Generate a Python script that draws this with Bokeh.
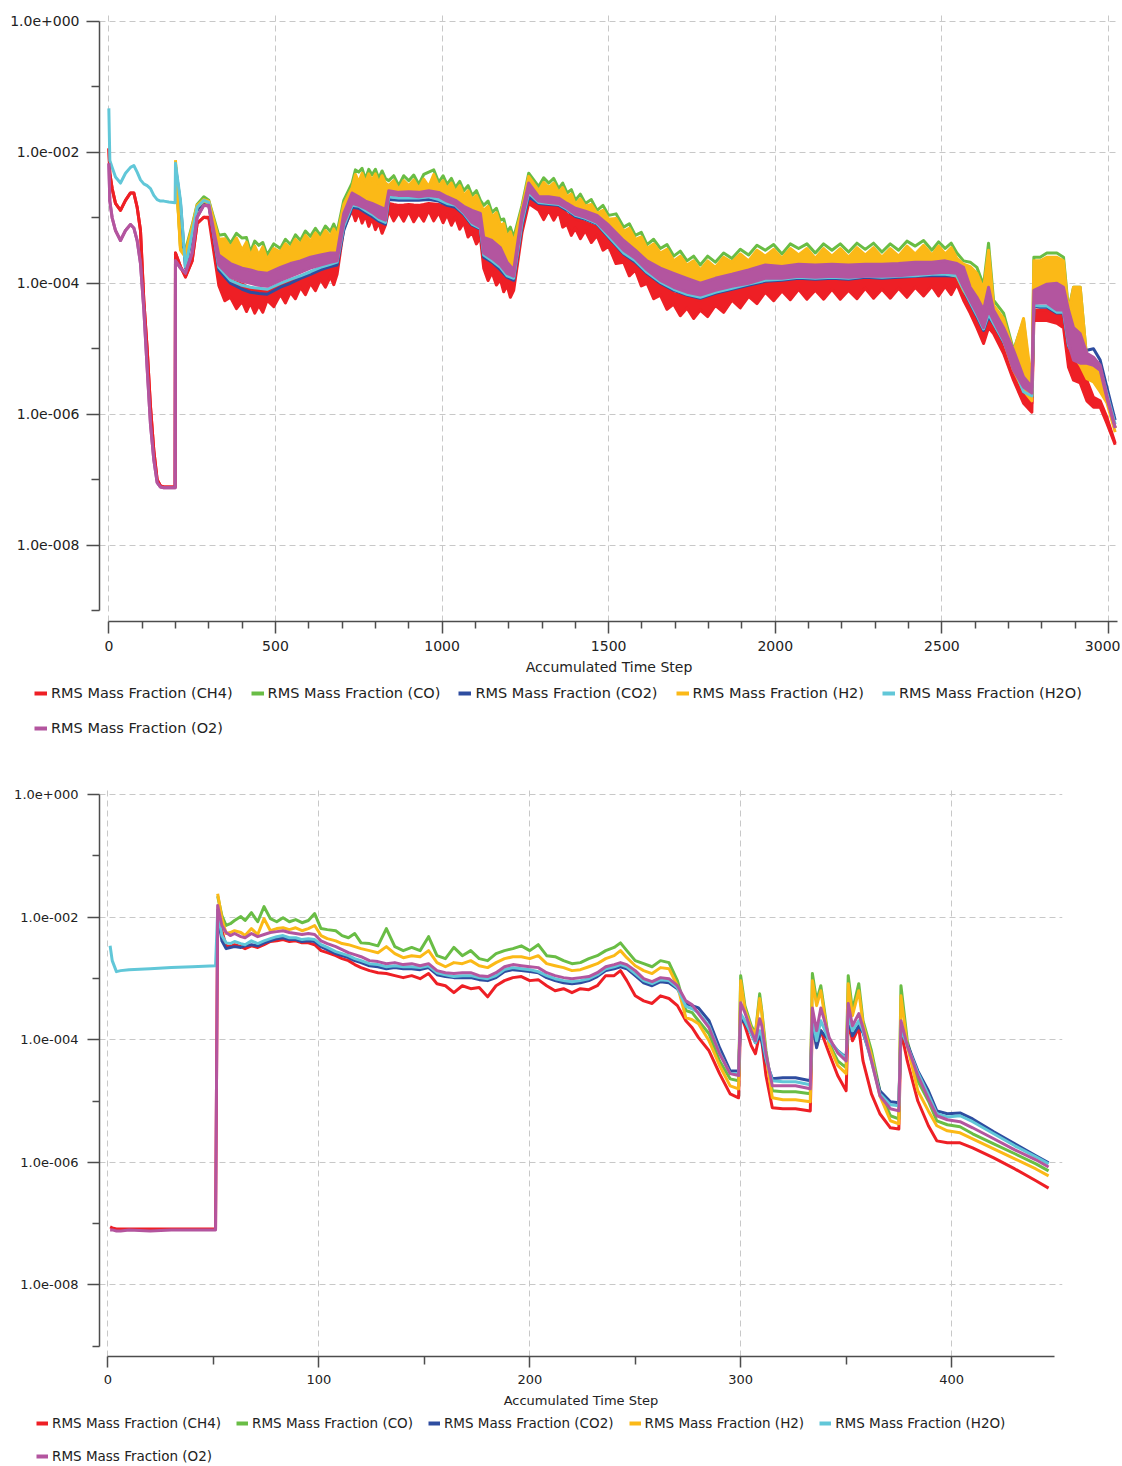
import numpy as np
from bokeh.plotting import figure
from bokeh.models import Range1d, FixedTicker, Legend, LegendItem, CustomJSTickFormatter
from bokeh.layouts import column
from bokeh.embed import file_html
from bokeh.resources import INLINE

FONT = "DejaVu Sans"
series_labels = ["RMS Mass Fraction (CH4)", "RMS Mass Fraction (CO)", "RMS Mass Fraction (CO2)",
                 "RMS Mass Fraction (H2)", "RMS Mass Fraction (H2O)", "RMS Mass Fraction (O2)"]
series_colors = ["#ee1f25", "#69bd45", "#2e4da0", "#fbb917", "#61c7d8", "#b3559f"]

y_major_ticks = [1.0, 1e-2, 1e-4, 1e-6, 1e-8]
y_minor_ticks = [1e-1, 1e-3, 1e-5, 1e-7, 1e-9]
x1_major_ticks = [0, 500, 1000, 1500, 2000, 2500, 3000]
x1_minor_ticks = [100, 200, 300, 400, 600, 700, 800, 900, 1100, 1200, 1300, 1400, 1600, 1700, 1800, 1900,
                  2100, 2200, 2300, 2400, 2600, 2700, 2800, 2900]
x2_major_ticks = [0, 100, 200, 300, 400]
x2_minor_ticks = [50, 150, 250, 350]

# ---------------- chart 1 (accumulated time step 0..3030) ----------------
t1_early = [0, 3, 10, 20, 35, 50, 65, 75, 85, 95, 105, 115, 125, 135, 145, 155, 165, 180, 199]
ch4_1_early = [1.15e-2, 4.8e-3, 2.8e-3, 1.66e-3, 1.3e-3, 1.85e-3, 2.4e-3, 2.4e-3, 1.45e-3, 6.4e-4,
               5.5e-5, 1.0e-5, 1.3e-6, 2.8e-7, 1.0e-7, 8.0e-8, 7.7e-8, 7.7e-8, 7.7e-8]
h2o_1_early = [4.7e-2, 7.5e-3, 5.9e-3, 4.2e-3, 3.4e-3, 4.8e-3, 5.9e-3, 6.3e-3, 5.0e-3, 3.8e-3,
               3.3e-3, 3.1e-3, 2.8e-3, 2.2e-3, 1.9e-3, 1.8e-3, 1.8e-3, 1.75e-3, 1.7e-3]
o2_1_early = [6.8e-3, 1.8e-3, 1.0e-3, 6.4e-4, 4.5e-4, 6.4e-4, 7.9e-4, 7.0e-4, 4.5e-4, 2.0e-4,
              4.0e-5, 5.0e-6, 7.0e-7, 2.0e-7, 9.0e-8, 7.7e-8, 7.5e-8, 7.5e-8, 7.5e-8]

t1_main = [200, 215, 230, 250, 265, 285, 300, 330, 365, 400,
           425, 450, 475, 515, 545, 575, 605, 635, 665, 685,
           705, 730, 750, 770, 790, 810, 830, 840, 870, 900,
           930, 960, 990, 1015, 1040, 1065, 1090, 1115, 1125, 1150,
           1175, 1195, 1215, 1240, 1260, 1290, 1320, 1350, 1375, 1400,
           1430, 1465, 1500, 1545, 1580, 1615, 1655, 1695, 1735, 1775,
           1820, 1870, 1920, 1970, 2020, 2070, 2120, 2170, 2220, 2270,
           2320, 2370, 2420, 2470, 2510, 2545, 2565, 2585, 2605, 2625,
           2640, 2655, 2685, 2715, 2745, 2770, 2776, 2795, 2815, 2845,
           2865, 2880, 2895, 2915, 2935, 2955, 2975, 2995, 3020]

co_1 = [6.3e-3, 3.7e-4, 3.2e-4, 7.7e-4, 1.6e-3, 2.1e-3, 1.85e-3, 5.4e-4, 4.1e-4, 4.9e-4,
        3.0e-4, 3.8e-4, 2.7e-4, 3.4e-4, 3.9e-4, 4.5e-4, 5.2e-4, 5.4e-4, 6.2e-4, 6.0e-4,
        1.85e-3, 3.4e-3, 5.0e-3, 3.9e-3, 4.5e-3, 4.0e-3, 4.0e-3, 3.7e-3, 3.1e-3, 3.7e-3,
        3.25e-3, 5.0e-3, 3.5e-3, 3.25e-3, 2.9e-3, 2.6e-3, 2.2e-3, 1.85e-3, 1.55e-3, 1.21e-3,
        9.2e-4, 6.0e-4, 5.0e-4, 1.55e-3, 4.8e-3, 3.0e-3, 3.4e-3, 2.8e-3, 2.4e-3, 1.85e-3,
        1.66e-3, 1.3e-3, 1.09e-3, 7.2e-4, 5.4e-4, 3.9e-4, 3.4e-4, 2.6e-4, 2.2e-4, 1.9e-4,
        2.1e-4, 2.4e-4, 2.7e-4, 3.2e-4, 2.8e-4, 3.4e-4, 2.9e-4, 3.2e-4, 3.0e-4, 3.3e-4,
        3.0e-4, 3.2e-4, 3.7e-4, 3.2e-4, 3.4e-4, 2.9e-4, 2.2e-4, 2.1e-4, 1.75e-4, 9.3e-5,
        4.1e-4, 5.5e-5, 3.5e-5, 9.5e-6, 2.7e-5, 1.95e-6, 2.5e-4, 2.5e-4, 2.9e-4, 2.9e-4,
        2.5e-4, 3.9e-5, 8.7e-5, 8.7e-5, 6.7e-6, 5.6e-6, 3.9e-6, 1.95e-6, 6.1e-7]

h2_1_hi = [7.6e-3, 3.4e-4, 2.9e-4, 7.2e-4, 1.55e-3, 1.9e-3, 1.8e-3, 4.7e-4, 3.5e-4, 3.2e-4,
           2.6e-4, 2.7e-4, 2.3e-4, 3.0e-4, 3.4e-4, 3.9e-4, 4.4e-4, 4.7e-4, 5.2e-4, 5.2e-4,
           1.6e-3, 2.9e-3, 3.5e-3, 3.4e-3, 3.7e-3, 3.4e-3, 3.4e-3, 3.1e-3, 2.7e-3, 3.1e-3,
           2.8e-3, 3.0e-3, 3.0e-3, 2.8e-3, 2.5e-3, 2.2e-3, 1.9e-3, 1.6e-3, 1.3e-3, 1.02e-3,
           7.7e-4, 5.0e-4, 4.2e-4, 1.4e-3, 4.3e-3, 2.6e-3, 2.9e-3, 2.45e-3, 2.1e-3, 1.6e-3,
           1.5e-3, 1.17e-3, 9.5e-4, 6.2e-4, 4.7e-4, 3.4e-4, 2.9e-4, 2.2e-4, 1.9e-4, 1.6e-4,
           1.75e-4, 2.1e-4, 2.2e-4, 2.6e-4, 2.4e-4, 2.7e-4, 2.4e-4, 2.6e-4, 2.5e-4, 2.7e-4,
           2.5e-4, 2.6e-4, 2.8e-4, 2.7e-4, 2.8e-4, 2.4e-4, 1.95e-4, 1.8e-4, 1.42e-4, 8.1e-5,
           3.2e-4, 4.6e-5, 2.9e-5, 8.9e-6, 2.9e-5, 2.8e-6, 2.2e-4, 2.2e-4, 2.5e-4, 2.5e-4,
           2.2e-4, 3.6e-5, 8.7e-5, 8.7e-5, 6.7e-6, 5.6e-6, 3.9e-6, 1.95e-6, 6.1e-7]
h2_1_lo = [6.8e-3, 3.2e-4, 2.5e-4, 6.7e-4, 1.45e-3, 1.8e-3, 1.66e-3, 2.7e-4, 2.0e-4, 1.7e-4,
           1.6e-4, 1.47e-4, 1.42e-4, 1.75e-4, 2.0e-4, 2.2e-4, 2.5e-4, 2.7e-4, 2.9e-4, 2.9e-4,
           1.17e-3, 2.4e-3, 2.2e-3, 1.85e-3, 1.66e-3, 1.5e-3, 1.4e-3, 2.45e-3, 2.4e-3, 2.45e-3,
           2.4e-3, 2.5e-3, 2.4e-3, 2.1e-3, 1.85e-3, 1.5e-3, 1.3e-3, 1.17e-3, 5.4e-4, 4.5e-4,
           3.5e-4, 2.1e-4, 1.6e-4, 1.21e-3, 3.5e-3, 2.1e-3, 2.1e-3, 2.0e-3, 1.66e-3, 1.4e-3,
           1.26e-3, 1.09e-3, 7.7e-4, 4.5e-4, 3.2e-4, 2.2e-4, 1.7e-4, 1.42e-4, 1.19e-4, 1.0e-4,
           1.11e-4, 1.28e-4, 1.42e-4, 1.6e-4, 1.47e-4, 1.6e-4, 1.47e-4, 1.6e-4, 1.47e-4, 1.6e-4,
           1.5e-4, 1.6e-4, 1.6e-4, 1.47e-4, 1.42e-4, 1.28e-4, 7.8e-5, 5.5e-5, 3.9e-5, 2.2e-5,
           3.6e-5, 2.5e-5, 1.35e-5, 4.7e-6, 2.3e-6, 1.6e-6, 7.8e-5, 7.8e-5, 7.8e-5, 5.5e-5,
           4.6e-5, 1.6e-5, 8.0e-6, 5.6e-6, 3.5e-6, 3.1e-6, 2.2e-6, 1.5e-6, 5.3e-7]

co2_1 = [6.1e-3, 1.66e-3, 1.7e-4, 5.2e-4, 1.3e-3, 1.72e-3, 1.6e-3, 1.6e-4, 1.0e-4, 8.1e-5,
         7.3e-5, 7.0e-5, 6.8e-5, 8.7e-5, 1.0e-4, 1.19e-4, 1.37e-4, 1.6e-4, 1.8e-4, 1.9e-4,
         6.4e-4, 1.45e-3, 1.4e-3, 1.21e-3, 1.05e-3, 8.9e-4, 8.0e-4, 1.9e-3, 1.85e-3, 1.85e-3,
         1.85e-3, 1.9e-3, 1.8e-3, 1.55e-3, 1.45e-3, 1.13e-3, 7.7e-4, 6.7e-4, 2.5e-4, 2.1e-4,
         1.6e-4, 1.24e-4, 1.11e-4, 7.7e-4, 2.1e-3, 1.66e-3, 1.6e-3, 1.55e-3, 1.3e-3, 1.05e-3,
         9.5e-4, 8.0e-4, 5.0e-4, 2.8e-4, 2.1e-4, 1.42e-4, 1.0e-4, 7.8e-5, 6.6e-5, 5.9e-5,
         7.0e-5, 8.1e-5, 9.3e-5, 1.07e-4, 1.11e-4, 1.19e-4, 1.15e-4, 1.19e-4, 1.15e-4, 1.24e-4,
         1.19e-4, 1.24e-4, 1.28e-4, 1.3e-4, 1.3e-4, 1.28e-4, 7.8e-5, 5.0e-5, 3.1e-5, 1.9e-5,
         3.1e-5, 2.4e-5, 1.26e-5, 6.0e-6, 2.2e-6, 1.8e-6, 4.5e-5, 4.3e-5, 4.3e-5, 3.5e-5,
         3.5e-5, 1.09e-5, 8.9e-6, 8.5e-6, 9.5e-6, 1.0e-5, 6.7e-6, 2.6e-6, 8.1e-7]

h2o_1_main = [6.8e-3, 1.85e-3, 1.75e-4, 5.8e-4, 1.45e-3, 1.85e-3, 1.72e-3, 1.75e-4, 1.11e-4, 9.3e-5,
              8.7e-5, 8.4e-5, 8.1e-5, 1.0e-4, 1.15e-4, 1.3e-4, 1.5e-4, 1.75e-4, 1.95e-4, 2.1e-4,
              7.4e-4, 1.55e-3, 1.5e-3, 1.3e-3, 1.13e-3, 9.5e-4, 8.5e-4, 2.1e-3, 2.0e-3, 2.0e-3,
              2.0e-3, 2.1e-3, 1.9e-3, 1.66e-3, 1.55e-3, 1.17e-3, 8.0e-4, 6.9e-4, 2.7e-4, 2.2e-4,
              1.75e-4, 1.3e-4, 1.19e-4, 8.5e-4, 2.4e-3, 1.72e-3, 1.66e-3, 1.6e-3, 1.35e-3, 1.09e-3,
              9.8e-4, 8.2e-4, 5.2e-4, 2.9e-4, 2.2e-4, 1.47e-4, 1.04e-4, 8.1e-5, 6.8e-5, 6.1e-5,
              7.3e-5, 8.4e-5, 9.7e-5, 1.11e-4, 1.15e-4, 1.24e-4, 1.19e-4, 1.24e-4, 1.19e-4, 1.28e-4,
              1.24e-4, 1.28e-4, 1.3e-4, 1.37e-4, 1.37e-4, 1.3e-4, 8.1e-5, 5.1e-5, 3.25e-5, 2.0e-5,
              3.4e-5, 2.45e-5, 1.3e-5, 5.4e-6, 2.2e-6, 1.9e-6, 4.6e-5, 4.5e-5, 4.5e-5, 3.6e-5,
              3.6e-5, 1.13e-5, 7.7e-6, 7.2e-6, 8.0e-6, 7.2e-6, 5.0e-6, 2.1e-6, 7.0e-7]

o2_1_hi = [2.2e-4, 1.7e-4, 1.47e-4, 2.9e-4, 1.02e-3, 1.55e-3, 1.55e-3, 2.7e-4, 2.0e-4, 1.7e-4,
           1.6e-4, 1.47e-4, 1.42e-4, 1.75e-4, 2.0e-4, 2.2e-4, 2.5e-4, 2.7e-4, 2.9e-4, 2.9e-4,
           1.17e-3, 2.4e-3, 2.1e-3, 1.8e-3, 1.66e-3, 1.5e-3, 1.35e-3, 2.6e-3, 2.45e-3, 2.5e-3,
           2.45e-3, 2.6e-3, 2.45e-3, 2.1e-3, 1.85e-3, 1.5e-3, 1.3e-3, 1.17e-3, 5.0e-4, 4.5e-4,
           3.5e-4, 2.1e-4, 1.6e-4, 1.21e-3, 3.4e-3, 2.1e-3, 2.1e-3, 2.0e-3, 1.66e-3, 1.4e-3,
           1.26e-3, 1.09e-3, 7.7e-4, 4.5e-4, 3.2e-4, 2.2e-4, 1.7e-4, 1.42e-4, 1.19e-4, 1.0e-4,
           1.19e-4, 1.37e-4, 1.6e-4, 1.9e-4, 1.8e-4, 1.95e-4, 1.9e-4, 1.95e-4, 1.9e-4, 1.95e-4,
           1.95e-4, 2.0e-4, 2.1e-4, 2.1e-4, 2.2e-4, 2.0e-4, 1.75e-4, 8.7e-5, 6.1e-5, 3.9e-5,
           8.7e-5, 3.9e-5, 2.1e-5, 9.5e-6, 3.7e-6, 2.6e-6, 7.8e-5, 8.7e-5, 9.7e-5, 1.0e-4,
           8.7e-5, 3.9e-5, 2.1e-5, 1.7e-5, 8.5e-6, 7.4e-6, 5.6e-6, 1.95e-6, 6.3e-7]
o2_1_lo = [2.2e-4, 1.7e-4, 1.42e-4, 2.9e-4, 1.02e-3, 1.55e-3, 1.5e-3, 1.9e-4, 1.24e-4, 1.07e-4,
           1.0e-4, 9.3e-5, 9.0e-5, 1.11e-4, 1.28e-4, 1.47e-4, 1.7e-4, 1.9e-4, 2.1e-4, 2.2e-4,
           8.2e-4, 1.66e-3, 1.55e-3, 1.4e-3, 1.21e-3, 1.02e-3, 9.2e-4, 2.3e-3, 2.2e-3, 2.2e-3,
           2.1e-3, 2.2e-3, 2.1e-3, 1.8e-3, 1.6e-3, 1.21e-3, 8.5e-4, 7.2e-4, 2.9e-4, 2.4e-4,
           1.9e-4, 1.42e-4, 1.28e-4, 9.8e-4, 2.6e-3, 1.8e-3, 1.72e-3, 1.66e-3, 1.4e-3, 1.13e-3,
           1.02e-3, 8.5e-4, 5.6e-4, 3.2e-4, 2.4e-4, 1.6e-4, 1.11e-4, 8.7e-5, 7.3e-5, 6.6e-5,
           7.8e-5, 9.0e-5, 1.0e-4, 1.19e-4, 1.19e-4, 1.28e-4, 1.24e-4, 1.28e-4, 1.24e-4, 1.28e-4,
           1.28e-4, 1.3e-4, 1.37e-4, 1.42e-4, 1.47e-4, 1.42e-4, 8.7e-5, 5.5e-5, 3.5e-5, 2.1e-5,
           3.9e-5, 2.7e-5, 1.35e-5, 4.7e-6, 2.6e-6, 2.1e-6, 5.0e-5, 5.0e-5, 5.0e-5, 3.9e-5,
           3.9e-5, 1.2e-5, 6.7e-6, 6.0e-6, 6.0e-6, 5.6e-6, 4.7e-6, 1.75e-6, 6.1e-7]

ch4_1_hi = [2.9e-4, 1.8e-4, 1.28e-4, 2.2e-4, 8.2e-4, 1.02e-3, 1.02e-3, 1.7e-4, 1.11e-4, 9.7e-5,
            8.4e-5, 7.8e-5, 7.8e-5, 9.3e-5, 1.11e-4, 1.28e-4, 1.47e-4, 1.7e-4, 1.9e-4, 2.1e-4,
            9.2e-4, 1.66e-3, 1.66e-3, 1.5e-3, 1.3e-3, 1.13e-3, 1.05e-3, 1.66e-3, 1.55e-3, 1.6e-3,
            1.55e-3, 1.66e-3, 1.6e-3, 1.45e-3, 1.35e-3, 1.21e-3, 9.2e-4, 7.4e-4, 3.2e-4, 2.6e-4,
            2.1e-4, 1.47e-4, 1.11e-4, 9.2e-4, 2.1e-3, 1.66e-3, 1.6e-3, 1.55e-3, 1.13e-3, 9.8e-4,
            8.5e-4, 7.2e-4, 5.2e-4, 2.7e-4, 2.0e-4, 1.42e-4, 1.0e-4, 7.0e-5, 6.3e-5, 5.5e-5,
            7.0e-5, 8.4e-5, 9.7e-5, 1.11e-4, 1.15e-4, 1.24e-4, 1.19e-4, 1.19e-4, 1.15e-4, 1.24e-4,
            1.19e-4, 1.24e-4, 1.28e-4, 1.28e-4, 1.28e-4, 1.24e-4, 8.7e-5, 5.5e-5, 3.6e-5, 2.1e-5,
            3.0e-5, 2.45e-5, 1.35e-5, 5.2e-6, 2.1e-6, 1.47e-6, 3.9e-5, 3.9e-5, 3.9e-5, 3.5e-5,
            3.5e-5, 1.35e-5, 6.7e-6, 5.2e-6, 3.3e-6, 1.8e-6, 1.6e-6, 9.0e-7, 3.6e-7]
ch4_1_lo = [2.9e-4, 1.8e-4, 1.24e-4, 2.2e-4, 8.2e-4, 1.02e-3, 9.8e-4, 9.3e-5, 6.1e-5, 5.3e-5,
            5.0e-5, 4.6e-5, 5.5e-5, 6.8e-5, 7.3e-5, 8.7e-5, 1.0e-4, 1.15e-4, 1.28e-4, 1.37e-4,
            6.9e-4, 1.3e-3, 1.21e-3, 1.09e-3, 9.8e-4, 8.5e-4, 7.7e-4, 1.3e-3, 1.21e-3, 1.26e-3,
            1.17e-3, 1.3e-3, 1.21e-3, 1.13e-3, 1.02e-3, 8.5e-4, 6.0e-4, 5.0e-4, 1.7e-4, 1.47e-4,
            1.15e-4, 9.3e-5, 7.8e-5, 6.0e-4, 1.66e-3, 1.3e-3, 1.3e-3, 1.26e-3, 8.0e-4, 6.9e-4,
            6.4e-4, 5.4e-4, 3.7e-4, 2.1e-4, 1.6e-4, 1.0e-4, 6.6e-5, 4.8e-5, 4.2e-5, 3.9e-5,
            4.6e-5, 5.5e-5, 6.3e-5, 7.3e-5, 7.6e-5, 8.1e-5, 7.8e-5, 8.1e-5, 7.8e-5, 8.4e-5,
            8.1e-5, 8.4e-5, 8.7e-5, 9.0e-5, 9.0e-5, 9.7e-5, 5.5e-5, 3.5e-5, 2.1e-5, 1.2e-5,
            2.1e-5, 1.7e-5, 8.5e-6, 3.3e-6, 1.47e-6, 1.07e-6, 2.7e-5, 2.7e-5, 2.7e-5, 2.45e-5,
            2.1e-5, 5.2e-6, 3.3e-6, 3.0e-6, 1.6e-6, 1.28e-6, 1.28e-6, 7.3e-7, 3.4e-7]

# extra samples between the grid steps (the noisy spikes of the band edges)
t1_spk = [348, 383, 413, 438, 462, 495, 530, 560, 590, 620, 650, 675,
          740, 760, 780, 800, 820, 855, 885, 915, 945, 975, 1003, 1028, 1053, 1078, 1103,
          1138, 1163, 1185, 1205,
          1305, 1335, 1362, 1388, 1415, 1448,
          1483, 1522, 1562, 1598, 1635, 1675, 1715, 1755,
          1797, 1845, 1895, 1945, 1995, 2045, 2095, 2145, 2195, 2245, 2295, 2345, 2395, 2445, 2490, 2528]
co_1_spk = [5.6e-4, 5.8e-4, 5.0e-4, 4.4e-4, 4.2e-4, 4.0e-4, 4.7e-4, 5.5e-4, 6.3e-4, 6.9e-4, 7.5e-4, 8.0e-4,
            5.4e-3, 5.7e-3, 5.5e-3, 5.5e-3, 5.2e-3, 4.4e-3, 4.4e-3, 4.5e-3, 4.6e-3, 5.4e-3, 4.4e-3, 4.0e-3,
            3.6e-3, 3.1e-3, 2.6e-3,
            1.8e-3, 1.4e-3, 9.6e-4, 7.2e-4,
            4.1e-3, 4.0e-3, 3.4e-3, 2.7e-3, 2.3e-3, 1.9e-3,
            1.55e-3, 1.15e-3, 8.1e-4, 6.0e-4, 4.7e-4, 3.9e-4, 3.1e-4, 2.6e-4,
            2.6e-4, 2.9e-4, 3.3e-4, 3.8e-4, 3.9e-4, 4.0e-4, 4.0e-4, 4.0e-4, 4.0e-4, 4.1e-4, 4.1e-4, 4.0e-4,
            4.4e-4, 4.5e-4, 4.3e-4, 4.1e-4]
h2_1_spk_hi = [4.8e-4, 4.9e-4, 4.25e-4, 3.7e-4, 3.6e-4, 3.4e-4, 4.0e-4, 4.7e-4, 5.4e-4, 5.9e-4, 6.4e-4, 6.8e-4,
               4.6e-3, 4.8e-3, 4.7e-3, 4.7e-3, 4.4e-3, 3.7e-3, 3.7e-3, 3.8e-3, 3.9e-3, 4.6e-3, 3.7e-3, 3.4e-3,
               3.1e-3, 2.6e-3, 2.2e-3,
               1.5e-3, 1.2e-3, 8.2e-4, 6.1e-4,
               3.5e-3, 3.4e-3, 2.9e-3, 2.3e-3, 1.95e-3, 1.6e-3,
               1.3e-3, 9.8e-4, 6.9e-4, 5.1e-4, 4.0e-4, 3.3e-4, 2.6e-4, 2.2e-4,
               2.2e-4, 2.5e-4, 2.8e-4, 3.2e-4, 3.3e-4, 3.4e-4, 3.4e-4, 3.4e-4, 3.4e-4, 3.5e-4, 3.5e-4, 3.4e-4,
               3.7e-4, 3.8e-4, 3.7e-4, 3.5e-4]
h2_1_spk_lo = [2.3e-4, 1.84e-4, 1.65e-4, 1.53e-4, 1.44e-4, 1.58e-4, 1.87e-4, 2.1e-4, 2.35e-4, 2.6e-4, 2.8e-4, 2.9e-4,
               2.3e-3, 2.0e-3, 1.75e-3, 1.58e-3, 1.45e-3, 2.42e-3, 2.42e-3, 2.42e-3, 2.45e-3, 2.45e-3, 2.25e-3,
               1.97e-3, 1.67e-3, 1.4e-3, 1.23e-3,
               4.9e-4, 4.0e-4, 2.7e-4, 1.83e-4,
               2.1e-3, 2.05e-3, 1.82e-3, 1.52e-3, 1.33e-3, 1.17e-3,
               9.2e-4, 5.9e-4, 3.8e-4, 2.65e-4, 1.93e-4, 1.55e-4, 1.3e-4, 1.09e-4,
               1.05e-4, 1.19e-4, 1.35e-4, 1.51e-4, 1.53e-4, 1.53e-4, 1.53e-4, 1.53e-4, 1.53e-4, 1.53e-4,
               1.55e-4, 1.55e-4, 1.6e-4, 1.53e-4, 1.44e-4, 1.35e-4]
ch4_1_spk_hi = [1.37e-4, 1.04e-4, 9.0e-5, 8.1e-5, 7.8e-5, 8.5e-5, 1.02e-4, 1.19e-4, 1.37e-4, 1.58e-4, 1.8e-4, 2.0e-4,
                1.66e-3, 1.58e-3, 1.4e-3, 1.21e-3, 1.09e-3, 1.6e-3, 1.57e-3, 1.57e-3, 1.6e-3, 1.63e-3, 1.52e-3,
                1.4e-3, 1.28e-3, 1.06e-3, 8.3e-4,
                2.9e-4, 2.3e-4, 1.76e-4, 1.28e-4,
                1.63e-3, 1.57e-3, 1.32e-3, 1.05e-3, 9.1e-4, 7.8e-4,
                6.1e-4, 3.7e-4, 2.3e-4, 1.69e-4, 1.19e-4, 8.4e-5, 6.6e-5, 5.9e-5,
                6.2e-5, 7.7e-5, 9.0e-5, 1.04e-4, 1.13e-4, 1.19e-4, 1.21e-4, 1.19e-4, 1.17e-4, 1.19e-4,
                1.21e-4, 1.21e-4, 1.26e-4, 1.28e-4, 1.28e-4, 1.26e-4]
ch4_1_spk_lo = [5.4e-5, 4.1e-5, 3.7e-5, 3.5e-5, 3.6e-5, 4.4e-5, 5.0e-5, 5.8e-5, 6.7e-5, 7.7e-5, 8.7e-5, 9.5e-5,
                9.0e-4, 8.3e-4, 7.4e-4, 6.6e-4, 5.8e-4, 9.0e-4, 8.9e-4, 8.7e-4, 8.9e-4, 9.0e-4, 8.4e-4, 7.7e-4,
                6.7e-4, 5.1e-4, 4.0e-4,
                1.1e-4, 9.4e-5, 7.4e-5, 6.1e-5,
                9.4e-4, 9.2e-4, 7.2e-4, 5.4e-4, 4.8e-4, 4.2e-4,
                3.2e-4, 2.0e-4, 1.3e-4, 9.1e-5, 5.8e-5, 4.0e-5, 3.2e-5, 2.9e-5,
                3.1e-5, 3.6e-5, 4.2e-5, 4.9e-5, 5.4e-5, 5.6e-5, 5.7e-5, 5.7e-5, 5.7e-5, 5.8e-5, 5.9e-5, 5.9e-5,
                6.1e-5, 6.4e-5, 6.4e-5, 6.7e-5]

# ---------------- chart 2 (accumulated time step 0..446) ----------------
t2_early = [1, 2, 4, 6, 10, 20, 30, 40, 51]
h2o_2_early = [3.4e-3, 1.95e-3, 1.29e-3, 1.34e-3, 1.39e-3, 1.44e-3, 1.5e-3, 1.55e-3, 1.61e-3]
ch4_2_early = [8.85e-8, 8.5e-8, 8.2e-8, 8.2e-8, 8.2e-8, 8.2e-8, 8.2e-8, 8.2e-8, 8.2e-8]
o2_2_early = [7.9e-8, 7.9e-8, 7.6e-8, 7.6e-8, 7.9e-8, 7.6e-8, 7.9e-8, 7.9e-8, 7.9e-8]

t2_main = [52, 54, 56, 58, 60, 63, 65, 68, 71, 74,
           77, 80, 83, 86, 89, 92, 95, 98, 101, 104,
           108, 111, 114, 117, 120, 124, 128, 132, 136, 140,
           144, 148, 152, 156, 160, 164, 168, 172, 176, 180,
           184, 188, 192, 196, 200, 204, 208, 212, 216, 220,
           224, 228, 232, 236, 240, 243, 246, 250, 254, 258,
           262, 266, 270, 274, 277, 280, 285, 290, 295, 299,
           300, 302, 305, 307, 309, 310, 312, 315, 320, 326,
           333, 334, 336, 338, 342, 346, 350, 351, 353, 356,
           358, 362, 366, 371, 375, 376, 379, 384, 389, 393,
           398, 404, 410, 420, 430, 440, 446]

co_2 = [2.2e-2, 1.06e-2, 7.3e-3, 7.8e-3, 8.8e-3, 1.02e-2, 8.8e-3, 1.18e-2, 8.4e-3, 1.48e-2,
        9.45e-3, 8.4e-3, 9.8e-3, 8.4e-3, 9.1e-3, 8.1e-3, 8.8e-3, 1.14e-2, 6.5e-3, 6.25e-3,
        6.0e-3, 5.0e-3, 4.6e-3, 5.4e-3, 3.8e-3, 3.7e-3, 3.4e-3, 6.5e-3, 3.3e-3, 2.84e-3,
        3.2e-3, 2.84e-3, 4.8e-3, 2.35e-3, 2.1e-3, 3.2e-3, 2.35e-3, 2.84e-3, 2.1e-3, 1.95e-3,
        2.54e-3, 2.84e-3, 3.06e-3, 3.4e-3, 2.84e-3, 3.55e-3, 2.35e-3, 2.26e-3, 1.95e-3, 1.74e-3,
        1.81e-3, 2.1e-3, 2.35e-3, 2.84e-3, 3.2e-3, 3.8e-3, 2.84e-3, 1.95e-3, 1.74e-3, 1.55e-3,
        1.95e-3, 1.81e-3, 9.2e-4, 3.0e-4, 2.76e-4, 2.04e-4, 1.25e-4, 4.5e-5, 2.3e-5, 2.14e-5,
        1.11e-3, 3.6e-4, 1.69e-4, 1.25e-4, 5.6e-4, 3.0e-4, 6.6e-5, 1.47e-5, 1.42e-5, 1.42e-5,
        1.31e-5, 1.2e-3, 4.3e-4, 7.6e-4, 8.6e-5, 4.5e-5, 3.5e-5, 1.11e-3, 3.0e-4, 8.2e-4,
        2.04e-4, 6.6e-5, 1.47e-5, 5.75e-6, 5.1e-6, 7.6e-4, 9.6e-5, 2.14e-5, 1.0e-5, 4.76e-6,
        4.1e-6, 3.8e-6, 2.92e-6, 2.0e-6, 1.38e-6, 9.45e-7, 7.25e-7]

h2_2 = [2.4e-2, 9.45e-3, 5.4e-3, 5.6e-3, 6.0e-3, 5.6e-3, 5.0e-3, 6.5e-3, 5.2e-3, 9.45e-3,
        6.0e-3, 6.5e-3, 6.7e-3, 6.25e-3, 6.7e-3, 6.0e-3, 6.5e-3, 7.3e-3, 5.0e-3, 4.45e-3,
        4.1e-3, 3.7e-3, 3.55e-3, 3.3e-3, 3.06e-3, 2.84e-3, 2.63e-3, 3.3e-3, 2.54e-3, 2.18e-3,
        2.35e-3, 2.26e-3, 2.84e-3, 1.81e-3, 1.55e-3, 1.81e-3, 1.74e-3, 1.95e-3, 1.61e-3, 1.5e-3,
        1.81e-3, 2.1e-3, 2.26e-3, 2.26e-3, 2.1e-3, 2.35e-3, 1.74e-3, 1.61e-3, 1.5e-3, 1.34e-3,
        1.39e-3, 1.55e-3, 1.74e-3, 2.1e-3, 2.35e-3, 2.84e-3, 2.18e-3, 1.61e-3, 1.34e-3, 1.2e-3,
        1.5e-3, 1.44e-3, 7.6e-4, 2.29e-4, 2.12e-4, 1.82e-4, 9.6e-5, 3.8e-5, 1.77e-5, 1.58e-5,
        9.2e-4, 3.2e-4, 1.51e-4, 1.25e-4, 4.7e-4, 2.76e-4, 5.5e-5, 1.13e-5, 1.05e-5, 1.05e-5,
        9.7e-6, 9.2e-4, 3.6e-4, 6.3e-4, 8.0e-5, 3.8e-5, 2.8e-5, 8.2e-4, 2.46e-4, 6.3e-4,
        1.82e-4, 5.5e-5, 1.22e-5, 4.76e-6, 4.25e-6, 5.2e-4, 8.0e-5, 1.47e-5, 6.9e-6, 3.95e-6,
        3.27e-6, 3.03e-6, 2.42e-6, 1.66e-6, 1.14e-6, 7.8e-7, 6.0e-7]

co2_2 = [1.14e-2, 4.1e-3, 3.06e-3, 3.2e-3, 3.3e-3, 3.2e-3, 3.4e-3, 3.55e-3, 3.4e-3, 3.8e-3,
         4.1e-3, 4.45e-3, 4.6e-3, 4.3e-3, 4.3e-3, 4.0e-3, 4.1e-3, 4.0e-3, 3.3e-3, 2.95e-3,
         2.54e-3, 2.35e-3, 2.18e-3, 1.95e-3, 1.81e-3, 1.61e-3, 1.55e-3, 1.44e-3, 1.5e-3, 1.44e-3,
         1.44e-3, 1.39e-3, 1.5e-3, 1.15e-3, 1.07e-3, 1.03e-3, 1.03e-3, 1.03e-3, 9.55e-4, 9.2e-4,
         1.03e-3, 1.29e-3, 1.39e-3, 1.34e-3, 1.29e-3, 1.24e-3, 1.03e-3, 9.2e-4, 8.5e-4, 8.2e-4,
         8.5e-4, 9.2e-4, 1.07e-3, 1.34e-3, 1.44e-3, 1.55e-3, 1.44e-3, 1.11e-3, 8.5e-4, 7.6e-4,
         8.85e-4, 8.5e-4, 6.8e-4, 3.9e-4, 3.6e-4, 3.3e-4, 2.04e-4, 7.4e-5, 3.1e-5, 3.1e-5,
         2.2e-4, 1.89e-4, 1.25e-4, 8.95e-5, 1.16e-4, 9.6e-5, 4.5e-5, 2.3e-5, 2.4e-5, 2.4e-5,
         2.14e-5, 2.04e-4, 7.4e-5, 1.4e-4, 9.6e-5, 6.6e-5, 5.1e-5, 2.29e-4, 1.16e-4, 1.69e-4,
         1.3e-4, 4.9e-5, 1.47e-5, 9.7e-6, 9.4e-6, 1.4e-4, 8.6e-5, 3.1e-5, 1.47e-5, 6.9e-6,
         6.2e-6, 6.4e-6, 5.1e-6, 3.15e-6, 2.0e-6, 1.28e-6, 9.8e-7]

h2o_2_main = [1.28e-2, 5.0e-3, 3.8e-3, 3.7e-3, 4.0e-3, 3.7e-3, 3.55e-3, 4.1e-3, 3.7e-3, 4.1e-3,
              4.45e-3, 4.8e-3, 5.0e-3, 4.6e-3, 4.6e-3, 4.3e-3, 4.45e-3, 4.3e-3, 3.55e-3, 3.2e-3,
              2.73e-3, 2.54e-3, 2.35e-3, 2.1e-3, 1.95e-3, 1.74e-3, 1.68e-3, 1.55e-3, 1.61e-3, 1.55e-3,
              1.55e-3, 1.5e-3, 1.61e-3, 1.24e-3, 1.15e-3, 1.07e-3, 1.11e-3, 1.11e-3, 1.03e-3, 9.9e-4,
              1.11e-3, 1.39e-3, 1.5e-3, 1.44e-3, 1.39e-3, 1.29e-3, 1.11e-3, 9.9e-4, 9.2e-4, 8.85e-4,
              9.2e-4, 9.9e-4, 1.15e-3, 1.44e-3, 1.55e-3, 1.68e-3, 1.55e-3, 1.2e-3, 9.2e-4, 8.2e-4,
              9.55e-4, 9.2e-4, 7.1e-4, 3.5e-4, 3.2e-4, 2.76e-4, 1.69e-4, 6.1e-5, 2.8e-5, 2.8e-5,
              2.66e-4, 2.04e-4, 1.25e-4, 8.95e-5, 1.4e-4, 1.16e-4, 4.9e-5, 2.14e-5, 2.06e-5, 2.06e-5,
              1.84e-5, 2.46e-4, 9.6e-5, 2.04e-4, 9.6e-5, 6.6e-5, 4.9e-5, 2.66e-4, 1.4e-4, 2.04e-4,
              1.4e-4, 4.5e-5, 1.31e-5, 8.7e-6, 8.4e-6, 1.51e-4, 8.0e-5, 2.9e-5, 1.26e-5, 6.2e-6,
              5.5e-6, 5.75e-6, 4.6e-6, 2.92e-6, 1.86e-6, 1.23e-6, 9.45e-7]

o2_2_main = [1.54e-2, 7.3e-3, 5.6e-3, 5.0e-3, 5.4e-3, 4.8e-3, 4.6e-3, 5.4e-3, 4.8e-3, 5.2e-3,
             5.6e-3, 5.8e-3, 6.0e-3, 5.6e-3, 5.4e-3, 5.2e-3, 5.4e-3, 5.2e-3, 4.1e-3, 3.7e-3,
             3.3e-3, 2.95e-3, 2.63e-3, 2.44e-3, 2.26e-3, 1.95e-3, 1.88e-3, 1.74e-3, 1.81e-3, 1.68e-3,
             1.74e-3, 1.61e-3, 1.74e-3, 1.34e-3, 1.24e-3, 1.2e-3, 1.24e-3, 1.24e-3, 1.11e-3, 1.07e-3,
             1.24e-3, 1.55e-3, 1.68e-3, 1.61e-3, 1.55e-3, 1.5e-3, 1.24e-3, 1.11e-3, 1.03e-3, 9.9e-4,
             1.03e-3, 1.07e-3, 1.24e-3, 1.55e-3, 1.68e-3, 1.81e-3, 1.68e-3, 1.34e-3, 9.9e-4, 8.85e-4,
             1.03e-3, 9.9e-4, 7.6e-4, 4.3e-4, 3.7e-4, 2.66e-4, 1.57e-4, 5.9e-5, 2.8e-5, 2.6e-5,
             4.0e-4, 2.76e-4, 1.4e-4, 9.6e-5, 2.2e-4, 1.69e-4, 5.9e-5, 1.77e-5, 1.77e-5, 1.77e-5,
             1.58e-5, 3.3e-4, 1.4e-4, 3.3e-4, 1.08e-4, 6.1e-5, 4.5e-5, 3.9e-4, 1.69e-4, 2.66e-4,
             1.57e-4, 4.5e-5, 1.22e-5, 7.5e-6, 6.9e-6, 2.04e-4, 8.0e-5, 2.6e-5, 1.09e-5, 5.75e-6,
             4.95e-6, 4.6e-6, 3.66e-6, 2.42e-6, 1.6e-6, 1.1e-6, 8.4e-7]

ch4_2_main = [1.28e-2, 6.0e-3, 3.4e-3, 3.3e-3, 3.55e-3, 3.3e-3, 3.06e-3, 3.4e-3, 3.2e-3, 3.55e-3,
              4.0e-3, 4.1e-3, 4.3e-3, 4.0e-3, 4.1e-3, 3.8e-3, 3.8e-3, 3.55e-3, 2.84e-3, 2.63e-3,
              2.35e-3, 2.1e-3, 1.95e-3, 1.68e-3, 1.5e-3, 1.34e-3, 1.24e-3, 1.2e-3, 1.11e-3, 1.03e-3,
              1.11e-3, 9.9e-4, 1.2e-3, 8.2e-4, 7.6e-4, 5.85e-4, 7.6e-4, 6.8e-4, 7.1e-4, 5.0e-4,
              7.6e-4, 9.2e-4, 1.03e-3, 1.07e-3, 9.2e-4, 9.55e-4, 7.6e-4, 6.3e-4, 6.8e-4, 5.85e-4,
              6.8e-4, 6.55e-4, 7.6e-4, 1.11e-3, 1.11e-3, 1.34e-3, 9.2e-4, 5.2e-4, 4.3e-4, 3.9e-4,
              5.2e-4, 4.7e-4, 3.6e-4, 2.04e-4, 1.57e-4, 1.08e-4, 6.6e-5, 2.8e-5, 1.31e-5, 1.13e-5,
              2.46e-4, 1.69e-4, 8.0e-5, 5.9e-5, 1.25e-4, 9.6e-5, 2.6e-5, 7.75e-6, 7.5e-6, 7.5e-6,
              6.9e-6, 2.04e-4, 8.0e-5, 1.4e-4, 5.9e-5, 2.6e-5, 1.47e-5, 2.04e-4, 9.6e-5, 1.57e-4,
              4.5e-5, 1.31e-5, 6.2e-6, 3.66e-6, 3.5e-6, 1.4e-4, 4.5e-5, 1.0e-5, 3.95e-6, 2.24e-6,
              2.08e-6, 2.08e-6, 1.72e-6, 1.18e-6, 7.8e-7, 5.0e-7, 3.8e-7]

# ---------------- helpers ----------------
TICK_FMT = CustomJSTickFormatter(code="""
const e = Math.round(Math.log10(tick));
const a = Math.abs(e).toString().padStart(3, "0");
return "1.0e" + (e < 0 ? "-" : "+") + a;
""")


def merge_by_x(xa, ya, xb, yb):
    pts = sorted(zip(list(xa) + list(xb), list(ya) + list(yb)))
    return [q[0] for q in pts], [q[1] for q in pts]


def make_figure(xr, yr, xb, frame_w, frame_h, mbl, mbt, mbr, mbb, xmaj, xmin, fs,
                ytick, yminor, ystand, xtick, xminor, xstand, xlabstand):
    p = figure(x_range=Range1d(*xr), y_range=Range1d(*yr), y_axis_type="log",
               frame_width=frame_w, frame_height=frame_h,
               min_border_left=mbl, min_border_top=mbt, min_border_right=mbr, min_border_bottom=mbb,
               output_backend="svg", toolbar_location=None,
               background_fill_color="white", border_fill_color="white")
    p.outline_line_color = None
    xa = p.xaxis[0]
    ya = p.yaxis[0]
    xa.ticker = FixedTicker(ticks=xmaj, minor_ticks=xmin)
    ya.ticker = FixedTicker(ticks=y_major_ticks, minor_ticks=y_minor_ticks)
    ya.formatter = TICK_FMT
    xa.bounds = xb
    ya.bounds = (1e-9, 1.0)
    for ax in (xa, ya):
        ax.axis_line_color = "#4d4d4d"
        ax.axis_line_width = 1.5
        ax.major_tick_line_color = "#4d4d4d"
        ax.major_tick_line_width = 1.5
        ax.minor_tick_line_color = "#4d4d4d"
        ax.minor_tick_line_width = 1.5
        ax.major_tick_in = 0
        ax.minor_tick_in = 0
        ax.major_label_text_font = FONT
        ax.major_label_text_font_size = fs
        ax.major_label_text_color = "#222222"
    ya.major_tick_out = ytick
    ya.minor_tick_out = yminor
    ya.major_label_standoff = ystand
    xa.major_tick_out = xtick
    xa.minor_tick_out = xminor
    xa.major_label_standoff = xstand
    xa.axis_label = "Accumulated Time Step"
    xa.axis_label_text_font = FONT
    xa.axis_label_text_font_size = fs
    xa.axis_label_text_font_style = "normal"
    xa.axis_label_text_color = "#222222"
    xa.axis_label_standoff = xlabstand
    for g in (p.xgrid[0], p.ygrid[0]):
        g.grid_line_color = "#c8c8c8"
        g.grid_line_dash = "6 4"
        g.grid_line_width = 1
    return p


def legend_strip(height, dx, vys, fs, spacing, glyph_w, lh):
    """A blank strip that only carries the two-row legend of a chart."""
    q = figure(x_range=Range1d(0, 1), y_range=Range1d(0, 1), x_axis_type=None, y_axis_type=None,
               frame_width=1120, frame_height=height, min_border=0,
               output_backend="svg", toolbar_location=None,
               background_fill_color="white", border_fill_color="white")
    q.outline_line_color = None
    q.grid.visible = False
    nan = np.array([np.nan])
    keys = [q.line(x=nan, y=nan, line_color=col, line_width=4) for col in series_colors]
    items = [LegendItem(label=lab, renderers=[r]) for lab, r in zip(series_labels, keys)]
    for its, vy in ((items[:5], vys[0]), (items[5:], vys[1])):
        leg = Legend(items=its, orientation="horizontal", location=(dx, vy),
                     padding=0, margin=0, spacing=spacing, glyph_width=glyph_w, glyph_height=lh,
                     label_standoff=4, label_height=lh, label_text_font=FONT,
                     label_text_font_size=fs, label_text_color="#222222",
                     border_line_color=None, background_fill_alpha=0)
        q.add_layout(leg, "center")
    return q


def band(p, x, lo, hi, color):
    p.varea(x=x, y1=lo, y2=hi, fill_color=color)
    p.line(x, hi, line_color=color, line_width=LW, line_join="round")
    p.line(x, lo, line_color=color, line_width=LW, line_join="round")


LW = 3
c = series_colors

# ---------------- chart 1: frame left 99, top 12, 1019 x 609 px ----------------
p1 = make_figure((-28, 3030), (6.79e-10, 1.372), (0, 3026), 1019, 609, 99, 12, 2, 62,
                 x1_major_ticks, x1_minor_ticks, "14px", 13, 8, 7, 12, 7, 7, 5)

t1_all = t1_early + t1_main
t_ch4, ch4_lo = merge_by_x(t1_all, ch4_1_early + ch4_1_lo, t1_spk, ch4_1_spk_lo)
_, ch4_hi = merge_by_x(t1_all, ch4_1_early + ch4_1_hi, t1_spk, ch4_1_spk_hi)
t_co, co_edge = merge_by_x(t1_main, co_1, t1_spk, co_1_spk)
t_h2, h2_lo = merge_by_x(t1_main, h2_1_lo, t1_spk, h2_1_spk_lo)
_, h2_hi = merge_by_x(t1_main, h2_1_hi, t1_spk, h2_1_spk_hi)

band(p1, t_ch4, ch4_lo, ch4_hi, c[0])
p1.line(t_co, co_edge, line_color=c[1], line_width=LW, line_join="round")
p1.line(t1_main, co2_1, line_color=c[2], line_width=LW, line_join="round")
band(p1, t_h2, h2_lo, h2_hi, c[3])
p1.line(t1_all, h2o_1_early + h2o_1_main, line_color=c[4], line_width=LW, line_join="round")
band(p1, t1_all, o2_1_early + o2_1_lo, o2_1_early + o2_1_hi, c[5])

# legend strip 1: page y 683..760, rows centred at 693 and 728
leg1 = legend_strip(77, 34, (57, 22), "14.5px", 18, 13, 20)

# ---------------- chart 2: frame left 97, top 787, 963 x 569 px ----------------
p2 = make_figure((-4.03, 452.6), (6.80e-10, 1.301), (0, 449), 963, 569, 97, 27, 10, 59,
                 x2_major_ticks, x2_minor_ticks, "13px", 12, 7, 9, 11, 8, 7, 6)

t2_all = t2_early + t2_main
p2.line(t2_all, ch4_2_early + ch4_2_main, line_color=c[0], line_width=LW, line_join="round")
p2.line(t2_main, co_2, line_color=c[1], line_width=LW, line_join="round")
p2.line(t2_main, co2_2, line_color=c[2], line_width=LW, line_join="round")
p2.line(t2_main, h2_2, line_color=c[3], line_width=LW, line_join="round")
p2.line(t2_all, h2o_2_early + h2o_2_main, line_color=c[4], line_width=LW, line_join="round")
p2.line(t2_all, o2_2_early + o2_2_main, line_color=c[5], line_width=LW, line_join="round")

# legend strip 2: page y 1415..1466, rows centred at 1423 and 1456
leg2 = legend_strip(51, 36, (34, 1), "13.5px", 15, 12, 18)

layout = column(p1, leg1, p2, leg2, spacing=0)
open("out.html", "w").write(file_html(layout, INLINE))
